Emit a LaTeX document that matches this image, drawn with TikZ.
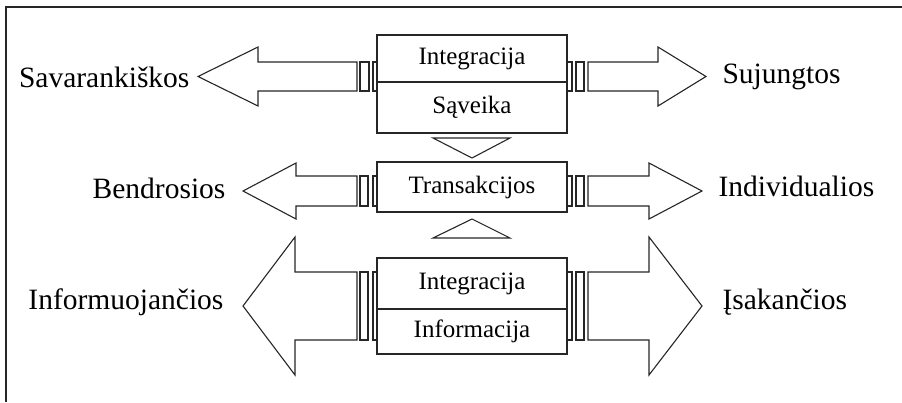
\documentclass[tikz,border=0pt]{standalone}
\usepackage{fontspec}
\setmainfont{Liberation Serif}
\usetikzlibrary{positioning}

\begin{document}
\begin{tikzpicture}[
    x=1pt, y=-1pt, color=black!85, line width=1.1pt,
    half/.style={draw, rectangle, inner sep=0pt, outer sep=0pt, minimum width=190pt, text=black, font=\fontsize{25}{30}\selectfont},
    lab/.style={inner sep=0pt, text=black, font=\fontsize{29.5}{34}\selectfont},
    blk/.style={draw, line join=miter, fill=white}
]
\useasboundingbox (0,0) rectangle (902,402);

% frame
\draw (6,402) -- (6,7) -- (902,7);

% boxes
\node[half, minimum height=47pt] (int1) at (472,58.5) {Integracija};
\node[half, minimum height=51pt, below=0pt of int1] (sav) {Sąveika};
\node[half, minimum height=50pt] (tra) at (472,187) {Transakcijos};
\node[half, minimum height=51pt] (int2) at (472,283.5) {Integracija};
\node[half, minimum height=45pt, below=0pt of int2] (inf) {Informacija};

% small tabs
\draw (360,62) rectangle (369,91);
\draw (373,62) rectangle (377,91);
\draw (567,62) rectangle (572,91);
\draw (576,62) rectangle (584,91);
\draw (360,176) rectangle (368,206);
\draw (373,176) rectangle (377,206);
\draw (567,176) rectangle (572,206);
\draw (576,176) rectangle (584,206);
\draw (360,272) rectangle (368,340);
\draw (373,272) rectangle (377,340);
\draw (567,272) rectangle (572,340);
\draw (576,272) rectangle (584,340);

% block arrows
\draw[blk] (357,62) -- (258,62) -- (258,47) -- (198,76.5) -- (258,106) -- (258,91) -- (357,91) -- cycle;
\draw[blk] (588,62) -- (658,62) -- (658,47) -- (706,76.5) -- (658,106) -- (658,91) -- (588,91) -- cycle;
\draw[blk] (357,176) -- (296,176) -- (296,163) -- (243,191) -- (296,219) -- (296,206) -- (357,206) -- cycle;
\draw[blk] (588,176) -- (649,176) -- (649,163) -- (702,191) -- (649,219) -- (649,206) -- (588,206) -- cycle;
\draw[blk] (357,272) -- (295,272) -- (295,237) -- (243,306) -- (295,375) -- (295,340) -- (357,340) -- cycle;
\draw[blk] (588,272) -- (649,272) -- (649,237) -- (702,306) -- (649,375) -- (649,340) -- (588,340) -- cycle;

% triangles
\draw (433,138) -- (510,138) -- (472,158) -- cycle;
\draw (433,238) -- (510,238) -- (472,219) -- cycle;

% labels
\node[lab, anchor=east] (l1) at (190,77) {Savarankiškos};
\node[lab, anchor=west] (r1) at (722,77) {Sujungtos};
\node[lab, anchor=east] (l2) at (226,188) {Bendrosios};
\node[lab, anchor=west] (r2) at (718,186) {Individualios};
\node[lab, anchor=east] (l3) at (224,302) {Informuojančios};
\node[lab, anchor=west] (r3) at (722,302) {Įsakančios};
\end{tikzpicture}
\end{document}
